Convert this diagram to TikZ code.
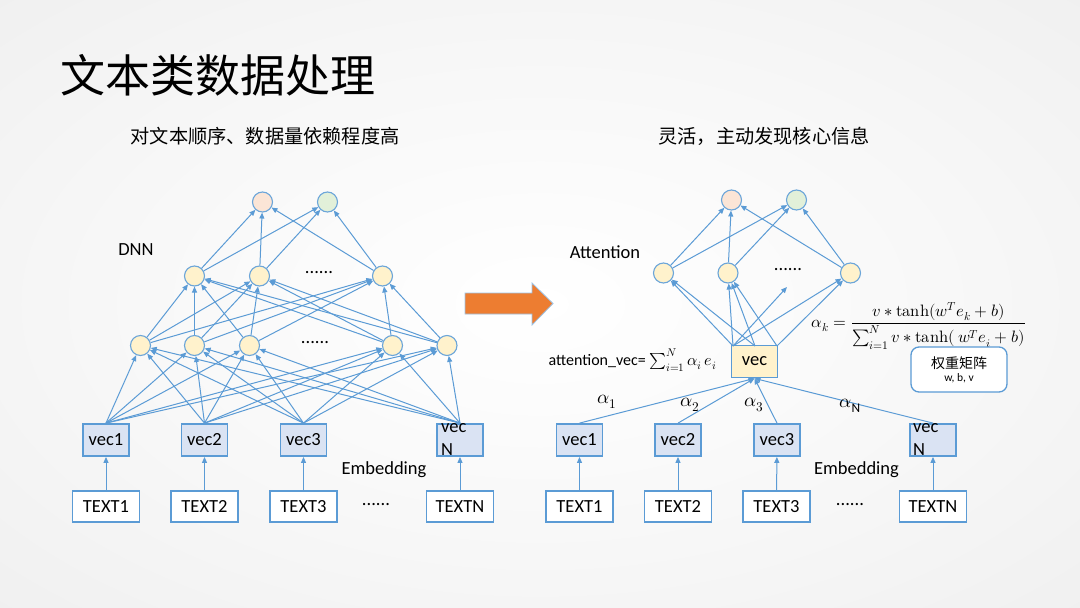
\documentclass[tikz,border=0pt]{standalone}
\usepackage{amsmath}
\usepackage{fontspec}
\usepackage{unicode-math}
\setmainfont{Carlito}
\setmathfont{Latin Modern Math}
\newfontfamily\cjk{Noto Sans CJK SC}
\usetikzlibrary{arrows.meta}
\definecolor{ln}{HTML}{5B9BD5}
\definecolor{cyel}{HTML}{FFF2CC}
\definecolor{cora}{HTML}{FBE5D6}
\definecolor{cgrn}{HTML}{E2F0D9}
\definecolor{cblu}{HTML}{DAE3F3}
\definecolor{orng}{HTML}{ED7D31}
\newcommand{\mytanh}{\mathop{\symup{tanh}}\nolimits}
\pgfdeclareradialshading{bgshade}{\pgfpoint{0bp}{0bp}}{color(0bp)=(white); color(20bp)=(white!97!black); color(70bp)=(white!88!black)}
\tikzset{
  txt/.style={font=\fontsize{18.5}{22}\selectfont, inner sep=0pt},
  neuron/.style={circle, draw=ln!90, line width=1.1pt, fill=cyel, minimum size=20pt, inner sep=0pt},
  vecbox/.style={draw=ln, line width=1.8pt, fill=cblu, minimum width=46pt, minimum height=32pt, inner sep=0pt, font=\fontsize{18.5}{22}\selectfont},
  textbox/.style={draw=ln, line width=1.5pt, fill=white, minimum width=67pt, minimum height=31pt, inner sep=0pt, font=\fontsize{18.5}{22}\selectfont},
  conn/.style={draw=ln, line width=1pt, -{Triangle[length=6pt,width=5pt]}},
}
\begin{document}
\begin{tikzpicture}[x=1pt,y=-1pt]
\useasboundingbox (0,0) rectangle (1080,608);
\shade[shading=bgshade] (0,0) rectangle (1080,608);

% titles
\node[anchor=west, inner sep=0pt, font=\cjk\fontsize{45}{52}\selectfont] (title) at (60,75) {文本类数据处理};
\node[inner sep=0pt, font=\cjk\fontsize{19.2}{22}\selectfont] (subl) at (265,136) {对文本顺序、数据量依赖程度高};
\node[inner sep=0pt, font=\cjk\fontsize{19.2}{22}\selectfont] (subr) at (764,136) {灵活，主动发现核心信息};

% ================= LEFT: DNN =================
\node[txt] (dnn) at (136,250) {DNN};
\node[neuron, fill=cora] (lo1) at (262.5,202) {};
\node[neuron, fill=cgrn] (lo2) at (327.5,202) {};
\node[neuron] (lh21) at (194.5,276) {};
\node[neuron] (lh22) at (259.5,276) {};
\node[neuron] (lh23) at (382.5,276) {};
\node[txt] (ld2) at (319,273) {......};
\node[neuron] (lh11) at (140.5,345.5) {};
\node[neuron] (lh12) at (194.5,345.5) {};
\node[neuron] (lh13) at (249.5,345.5) {};
\node[neuron] (lh14) at (392.5,345.5) {};
\node[neuron] (lh15) at (447,345.5) {};
\node[txt] (ld1) at (315,343) {......};

\node[vecbox] (lv1) at (106,440) {vec1};
\node[vecbox] (lv2) at (204.5,440) {vec2};
\node[vecbox] (lv3) at (303.5,440) {vec3};
\node[vecbox] (lvN) at (460,440) {};
\node[txt, anchor=north west, align=left, font=\fontsize{18.5}{23}\selectfont] (lvNt) at (441,423) {vec\\N};

\node[textbox] (lt1) at (106,506.5) {TEXT1};
\node[textbox] (lt2) at (204.5,506.5) {TEXT2};
\node[textbox] (lt3) at (303.5,506.5) {TEXT3};
\node[textbox] (ltN) at (460,506.5) {TEXTN};
\node[txt] (ltd) at (376,505) {......};
\node[txt] (lemb) at (384,470) {Embedding};

\foreach \a in {lh21,lh22,lh23}{\foreach \b in {lo1,lo2}{\draw[conn] (\a) -- (\b);}}
\foreach \a in {lh11,lh12,lh13,lh14,lh15}{\foreach \b in {lh21,lh22,lh23}{\draw[conn] (\a) -- (\b);}}
\foreach \a in {lv1,lv2,lv3,lvN}{\foreach \b in {lh11,lh12,lh13,lh14,lh15}{\draw[conn] (\a.north) -- (\b);}}
\foreach \a/\b in {lt1/lv1,lt2/lv2,lt3/lv3,ltN/lvN}{\draw[conn] (\a) -- (\b);}

% orange arrow
\draw[fill=orng, draw=ln!60, line width=0.8pt] (465,293) -- (532,293) -- (532,283) -- (553,303.5) -- (532,325) -- (532,314) -- (465,314) -- cycle;

% ================= RIGHT: Attention =================
\node[txt] (att) at (605,252) {Attention};
\node[neuron, fill=cora] (ro1) at (731.5,200) {};
\node[neuron, fill=cgrn] (ro2) at (796.5,200) {};
\node[neuron] (rh1) at (663.5,273) {};
\node[neuron] (rh2) at (728,273) {};
\node[neuron] (rh3) at (850.5,273) {};
\node[txt] (rdt) at (788,270) {......};
\coordinate (rd) at (787,287);

\node[vecbox, fill=cyel] (rvec) at (754.5,361.5) {vec};
\coordinate (rvL) at (733,346);
\coordinate (rvM) at (755,346);
\coordinate (rvR) at (777,346);

\node[vecbox] (rv1) at (579.5,440) {vec1};
\node[vecbox] (rv2) at (678,440) {vec2};
\node[vecbox] (rv3) at (777,440) {vec3};
\node[vecbox] (rvN) at (933,440) {};
\node[txt, anchor=north west, align=left, font=\fontsize{18.5}{23}\selectfont] (rvNt) at (913,423) {vec\\N};

\node[textbox] (rt1) at (579.5,506.5) {TEXT1};
\node[textbox] (rt2) at (678,506.5) {TEXT2};
\node[textbox] (rt3) at (776.5,506.5) {TEXT3};
\node[textbox] (rtN) at (933,506.5) {TEXTN};
\node[txt] (rtd) at (850,505) {......};
\node[txt] (remb) at (856.5,470) {Embedding};

\foreach \a in {rh1,rh2,rh3}{\foreach \b in {ro1,ro2}{\draw[conn] (\a) -- (\b);}}
\draw[conn] (rvL) -- (rh1);
\draw[conn] (rvM) -- (rh1);
\draw[conn] (rvL) -- (rh2);
\draw[conn] (rvM) -- (rh2);
\draw[conn] (rvR) -- (rh2);
\draw[conn] (rvL) -- (rd);
\draw[conn] (rvL) -- (rh3);
\draw[conn] (rvR) -- (rh3);

\foreach \a in {rv1,rv2,rv3,rvN}{\draw[conn] (\a.north) -- (rvec.south);}
\foreach \a/\b in {rt1/rv1,rt2/rv2,rt3/rv3,rtN/rvN}{\draw[conn] (\a) -- (\b);}

\node[txt, font=\fontsize{19}{22}\selectfont] (al1) at (607,402) {$\alpha_1$};
\node[txt, font=\fontsize{19}{22}\selectfont] (al2) at (690,405) {$\alpha_2$};
\node[txt, font=\fontsize{19}{22}\selectfont] (al3) at (754,405) {$\alpha_3$};
\node[txt, font=\fontsize{19}{22}\selectfont] (alN) at (850,406) {$\alpha_{\textrm{N}}$};

\node[inner sep=0pt, anchor=east, font=\fontsize{16}{19}\selectfont] (attv) at (717,360) {attention\_vec= $\sum_{i=1}^N \alpha_i\, e_i$};

\node[inner sep=0pt, font=\fontsize{16.5}{19}\selectfont] (frm) at (919,326) {$\alpha_k=\dfrac{v*\mytanh(w^Te_k+b)}{\sum_{i=1}^N v*\mytanh(\,w^Te_i+b)}$};

\node[draw=ln, line width=1.3pt, fill=white, rounded corners=8pt, minimum width=96pt, minimum height=45pt, align=center, inner sep=0pt] (wbox) at (959,369.5) {{\cjk\fontsize{14}{17}\selectfont 权重矩阵}\\[1pt]{\fontsize{11.5}{13}\selectfont w, b, v}};
\end{tikzpicture}
\end{document}
